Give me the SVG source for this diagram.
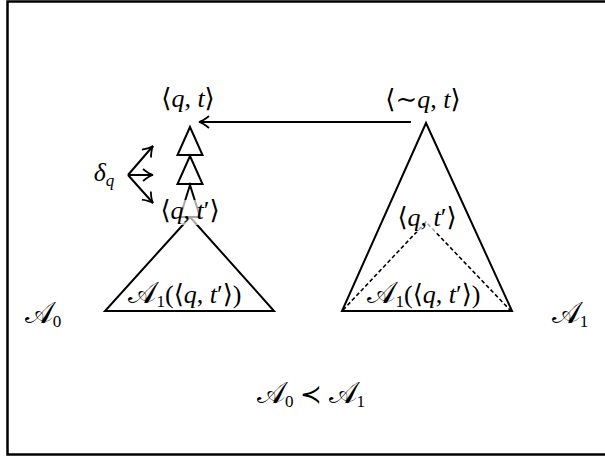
<svg xmlns="http://www.w3.org/2000/svg" width="605" height="457" viewBox="0 0 605 457">
<style>
.ln{fill:none;stroke:#000;stroke-width:2;stroke-linejoin:miter}
.ds{fill:none;stroke:#000;stroke-width:1.6;stroke-dasharray:4 2.5}
.t{font-family:"Liberation Serif","DejaVu Serif",serif;font-size:26px;fill:#000;text-anchor:middle}
.i{font-style:italic}
.a{font-size:30px}
.s{font-size:17px}
.mask{fill:#fff;opacity:0.65}
</style>
<defs>
<marker id="ah" viewBox="-12 -7 14 14" markerWidth="14" markerHeight="14" refX="0" refY="0" orient="auto" markerUnits="userSpaceOnUse">
<path d="M-10,-6 Q-4,-1 0,0 Q-4,1 -10,6" fill="none" stroke="#000" stroke-width="1.8"/>
</marker>
</defs>
<rect x="7.5" y="1.5" width="620" height="453" fill="#fff" stroke="#000" stroke-width="2.5"/>
<g id="connectors">
<line class="ln" x1="411" y1="122" x2="199" y2="122" marker-end="url(#ah)"/>
<line class="ln" x1="128" y1="175" x2="153" y2="146" marker-end="url(#ah)"/>
<line class="ln" x1="128" y1="175" x2="153" y2="175" marker-end="url(#ah)"/>
<line class="ln" x1="128" y1="175" x2="153" y2="203" marker-end="url(#ah)"/>
</g>
<g id="A0">
<polygon class="ln" points="190,217 105,311 274,311"/>
<polygon class="ln" points="190,127 177.5,155 202.5,155"/>
<polygon class="ln" points="190,156 177.5,184 202.5,184"/>
<polygon class="ln" points="190,185 180,217 200,217"/>
<rect class="mask" x="162" y="200" width="56" height="25"/>
<text class="t" x="188" y="107">⟨<tspan class="i">q</tspan>, <tspan class="i">t</tspan>⟩</text>
<text class="t" x="190" y="219">⟨<tspan class="i">q</tspan>, <tspan class="i">t</tspan>′⟩</text>
<text class="t" x="185" y="303"><tspan class="a">𝒜</tspan><tspan class="s" dy="4">1</tspan><tspan dy="-4">(⟨</tspan><tspan class="i">q</tspan>, <tspan class="i">t</tspan>′⟩)</text>
<text class="t" x="104" y="181"><tspan class="i">δ</tspan><tspan class="i s" dy="5">q</tspan></text>
<text class="t" x="43" y="323"><tspan class="a">𝒜</tspan><tspan class="s" dy="4">0</tspan></text>
</g>
<g id="A1">
<polygon class="ln" points="426,123 342,311 512,311"/>
<polyline class="ds" points="343,310 426,222 510,310"/>
<rect class="mask" x="399" y="207" width="56" height="25"/>
<text class="t" x="423" y="108">⟨∼<tspan class="i">q</tspan>, <tspan class="i">t</tspan>⟩</text>
<text class="t" x="427" y="226">⟨<tspan class="i">q</tspan>, <tspan class="i">t</tspan>′⟩</text>
<text class="t" x="424" y="303"><tspan class="a">𝒜</tspan><tspan class="s" dy="4">1</tspan><tspan dy="-4">(⟨</tspan><tspan class="i">q</tspan>, <tspan class="i">t</tspan>′⟩)</text>
<text class="t" x="570" y="323"><tspan class="a">𝒜</tspan><tspan class="s" dy="4">1</tspan></text>
</g>
<g id="relation">
<text class="t" x="311" y="403"><tspan class="a">𝒜</tspan><tspan class="s" dy="4">0</tspan><tspan dy="-4"> ≺ </tspan><tspan class="a">𝒜</tspan><tspan class="s" dy="4">1</tspan></text>
</g>
</svg>
